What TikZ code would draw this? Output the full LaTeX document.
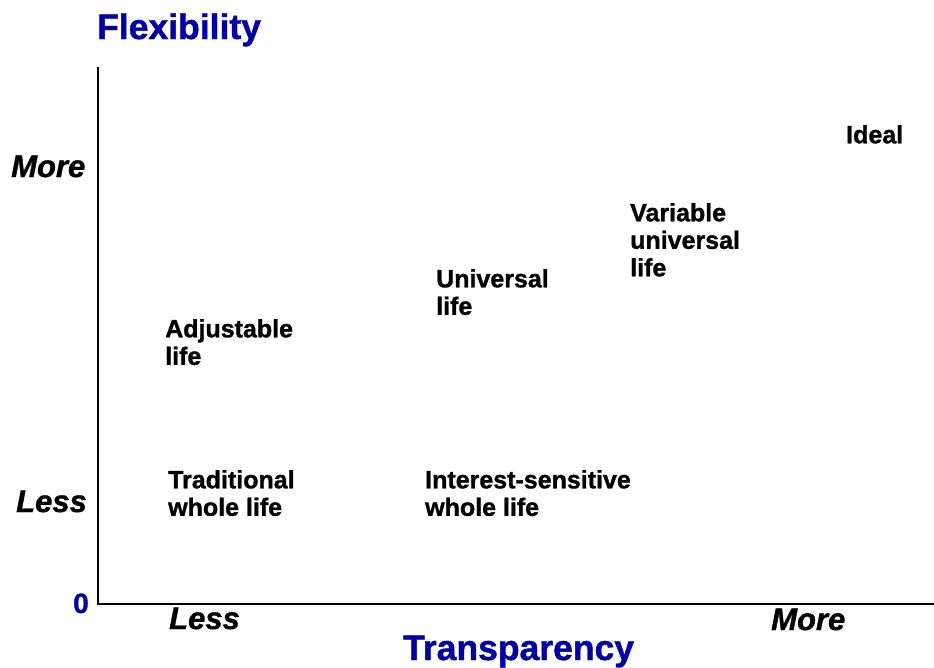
\documentclass[tikz,border=0pt]{standalone}
\usepackage{fontspec}
\setmainfont{Liberation Sans}[BoldFeatures={FakeBold=1.2},BoldItalicFeatures={FakeBold=1.2}]
\definecolor{axisblue}{RGB}{0,0,170}
\begin{document}
\begin{tikzpicture}[x=1pt,y=-1pt,
  lbl/.style={inner sep=0pt,anchor=north west,align=left,font=\fontsize{25}{27.5}\selectfont\bfseries},
  ticklbl/.style={inner sep=0pt,anchor=base west,font=\fontsize{31}{34}\selectfont\bfseries\itshape},
  title/.style={inner sep=0pt,anchor=base west,text=axisblue,font=\fontsize{35.5}{40}\selectfont\bfseries},
  axis/.style={line width=2pt}]
\useasboundingbox (0,0) rectangle (934,667);
\coordinate (ytop) at (98,67);
\coordinate (origin) at (98,604);
\coordinate (xend) at (934,604);
\draw[axis] (ytop) -- (origin) -- (xend);
\node[title] (flex) at (97,39) {Flexibility};
\node[title] (trans) at (403,660) {Transparency};
\node[inner sep=0pt,anchor=base west,text=axisblue,font=\fontsize{28}{30}\selectfont\bfseries] (zero) at (73,613) {0};
\node[ticklbl] (ymore) at (11,177) {More};
\node[ticklbl] (yless) at (16,512) {Less};
\node[ticklbl] (xless) at (169,629) {Less};
\node[ticklbl] (xmore) at (771,630) {More};
\node[lbl] (ideal) at (846,125) {Ideal};
\node[lbl] (vul) at (630,203) {Variable\\universal\\life};
\node[lbl] (ul) at (436,269) {Universal\\life};
\node[lbl] (al) at (165,319) {Adjustable\\life};
\node[lbl] (twl) at (168,470) {Traditional\\whole life};
\node[lbl] (iswl) at (425,470) {Interest-sensitive\\whole life};
\end{tikzpicture}
\end{document}
